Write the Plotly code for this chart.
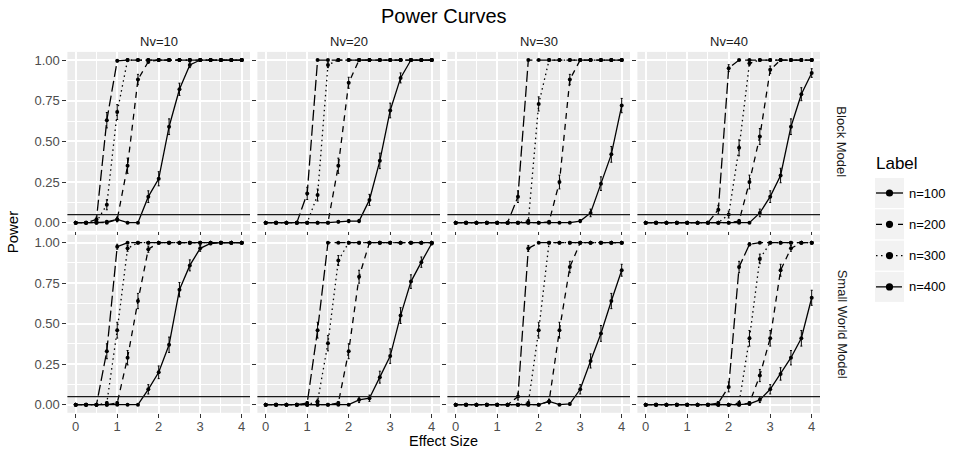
import math
import plotly.graph_objects as go
from plotly.subplots import make_subplots

W, H = 955, 450

# ---------------- data ----------------
effect_size = [0, 0.25, 0.5, 0.75, 1, 1.25, 1.5, 1.75, 2, 2.25, 2.5, 2.75, 3, 3.25, 3.5, 3.75, 4]
nv_labels = ["Nv=10", "Nv=20", "Nv=30", "Nv=40"]
model_labels = ["Block Model", "Small World Model"]
sample_labels = ["n=100", "n=200", "n=300", "n=400"]
x_ticks = [0, 1, 2, 3, 4]
y_ticks = [0, 0.25, 0.5, 0.75, 1]
y_tick_text = ["0.00", "0.25", "0.50", "0.75", "1.00"]
alpha_level = 0.05
n_sim = 400  # simulation replicates behind each power estimate (for the 95% CI bars)

# Block model
block_nv10_n100 = [0, 0, 0, 0.005, 0.02, 0, 0, 0.16, 0.27, 0.59, 0.82, 0.97, 1, 1, 1, 1, 1]
block_nv10_n200 = [0, 0, 0, 0, 0.02, 0.35, 0.88, 0.99, 1, 1, 1, 1, 1, 1, 1, 1, 1]
block_nv10_n300 = [0, 0, 0.005, 0.11, 0.68, 1, 1, 1, 1, 1, 1, 1, 1, 1, 1, 1, 1]
block_nv10_n400 = [0, 0, 0.02, 0.63, 0.995, 1, 1, 1, 1, 1, 1, 1, 1, 1, 1, 1, 1]

block_nv20_n100 = [0, 0, 0, 0, 0, 0, 0, 0.005, 0.01, 0.01, 0.14, 0.38, 0.69, 0.89, 1, 1, 1]
block_nv20_n200 = [0, 0, 0, 0, 0, 0, 0, 0.35, 0.86, 1, 1, 1, 1, 1, 1, 1, 1]
block_nv20_n300 = [0, 0, 0, 0, 0, 0.17, 0.97, 1, 1, 1, 1, 1, 1, 1, 1, 1, 1]
block_nv20_n400 = [0, 0, 0, 0, 0.18, 1, 1, 1, 1, 1, 1, 1, 1, 1, 1, 1, 1]

block_nv30_n100 = [0, 0, 0, 0, 0, 0, 0, 0, 0, 0, 0, 0, 0.01, 0.06, 0.24, 0.42, 0.72]
block_nv30_n200 = [0, 0, 0, 0, 0, 0, 0, 0, 0, 0.005, 0.25, 0.88, 1, 1, 1, 1, 1]
block_nv30_n300 = [0, 0, 0, 0, 0, 0, 0, 0.01, 0.73, 1, 1, 1, 1, 1, 1, 1, 1]
block_nv30_n400 = [0, 0, 0, 0, 0, 0, 0.16, 1, 1, 1, 1, 1, 1, 1, 1, 1, 1]

block_nv40_n100 = [0, 0, 0, 0, 0, 0, 0, 0, 0, 0, 0, 0.06, 0.16, 0.29, 0.59, 0.79, 0.92]
block_nv40_n200 = [0, 0, 0, 0, 0, 0, 0, 0, 0, 0.01, 0.25, 0.53, 0.94, 1, 1, 1, 1]
block_nv40_n300 = [0, 0, 0, 0, 0, 0, 0, 0, 0.05, 0.46, 0.98, 1, 1, 1, 1, 1, 1]
block_nv40_n400 = [0, 0, 0, 0, 0, 0, 0, 0.08, 0.95, 1, 1, 1, 1, 1, 1, 1, 1]

# Small world model
sw_nv10_n100 = [0, 0, 0, 0, 0, 0, 0, 0.095, 0.20, 0.37, 0.71, 0.86, 0.965, 0.995, 1, 1, 1]
sw_nv10_n200 = [0, 0, 0, 0, 0.01, 0.29, 0.64, 0.96, 1, 1, 1, 1, 1, 1, 1, 1, 1]
sw_nv10_n300 = [0, 0, 0, 0.01, 0.46, 0.965, 1, 1, 1, 1, 1, 1, 1, 1, 1, 1, 1]
sw_nv10_n400 = [0, 0, 0, 0.33, 0.975, 1, 1, 1, 1, 1, 1, 1, 1, 1, 1, 1, 1]

sw_nv20_n100 = [0, 0, 0, 0, 0, 0, 0, 0, 0, 0.03, 0.04, 0.17, 0.30, 0.55, 0.76, 0.88, 0.995]
sw_nv20_n200 = [0, 0, 0, 0, 0, 0, 0, 0.01, 0.33, 0.79, 1, 1, 1, 1, 1, 1, 1]
sw_nv20_n300 = [0, 0, 0, 0, 0, 0.02, 0.38, 0.89, 1, 1, 1, 1, 1, 1, 1, 1, 1]
sw_nv20_n400 = [0, 0, 0, 0, 0.01, 0.46, 1, 1, 1, 1, 1, 1, 1, 1, 1, 1, 1]

sw_nv30_n100 = [0, 0, 0, 0, 0, 0, 0, 0, 0, 0.02, 0, 0.005, 0.095, 0.27, 0.44, 0.64, 0.83]
sw_nv30_n200 = [0, 0, 0, 0, 0, 0, 0, 0, 0, 0.02, 0.46, 0.85, 1, 1, 1, 1, 1]
sw_nv30_n300 = [0, 0, 0, 0, 0, 0, 0, 0.01, 0.46, 1, 1, 1, 1, 1, 1, 1, 1]
sw_nv30_n400 = [0, 0, 0, 0, 0, 0, 0.05, 0.965, 1, 1, 1, 1, 1, 1, 1, 1, 1]

sw_nv40_n100 = [0, 0, 0, 0, 0, 0, 0, 0, 0, 0, 0.005, 0.03, 0.095, 0.19, 0.29, 0.41, 0.66]
sw_nv40_n200 = [0, 0, 0, 0, 0, 0, 0, 0, 0, 0, 0.01, 0.18, 0.41, 0.83, 0.965, 1, 1]
sw_nv40_n300 = [0, 0, 0, 0, 0, 0, 0, 0, 0, 0.01, 0.41, 0.90, 1, 1, 1, 1, 1]
sw_nv40_n400 = [0, 0, 0, 0, 0, 0, 0, 0.01, 0.11, 0.85, 0.99, 1, 1, 1, 1, 1, 1]

panels = {
    ("Block Model", "Nv=10"): [block_nv10_n100, block_nv10_n200, block_nv10_n300, block_nv10_n400],
    ("Block Model", "Nv=20"): [block_nv20_n100, block_nv20_n200, block_nv20_n300, block_nv20_n400],
    ("Block Model", "Nv=30"): [block_nv30_n100, block_nv30_n200, block_nv30_n300, block_nv30_n400],
    ("Block Model", "Nv=40"): [block_nv40_n100, block_nv40_n200, block_nv40_n300, block_nv40_n400],
    ("Small World Model", "Nv=10"): [sw_nv10_n100, sw_nv10_n200, sw_nv10_n300, sw_nv10_n400],
    ("Small World Model", "Nv=20"): [sw_nv20_n100, sw_nv20_n200, sw_nv20_n300, sw_nv20_n400],
    ("Small World Model", "Nv=30"): [sw_nv30_n100, sw_nv30_n200, sw_nv30_n300, sw_nv30_n400],
    ("Small World Model", "Nv=40"): [sw_nv40_n100, sw_nv40_n200, sw_nv40_n300, sw_nv40_n400],
}

# ---------------- style ----------------
FONT = "Liberation Sans, Arial, Helvetica, sans-serif"
dashes = ["solid", "6px,5px", "1.5px,3.5px", "11px,4px"]
PANEL_BG = "#EBEBEB"
TICK_COL = "#333333"
TICKLAB_COL = "#4D4D4D"

def fx(px):
    return px / W

def fy(py):
    return 1 - py / H

col_left = [67.4 + 190 * i for i in range(4)]
col_w = 182.6
row_top = [51.9, 234.6]
row_bot = [230.8, 412.8]

fig = make_subplots(rows=2, cols=4)

for r, model in enumerate(model_labels):
    for c, nv in enumerate(nv_labels):
        series = panels[(model, nv)]
        for s, vals in enumerate(series):
            err = [1.96 * math.sqrt(p * (1 - p) / n_sim) for p in vals]
            fig.add_trace(
                go.Scatter(
                    x=effect_size, y=vals, mode="lines+markers",
                    name=sample_labels[s], showlegend=False,
                    line=dict(color="black", width=1.3, dash=dashes[s]),
                    marker=dict(color="black", size=4),
                    error_y=dict(type="data", array=err, visible=True,
                                 color="black", thickness=1, width=1),
                ),
                row=r + 1, col=c + 1,
            )
        fig.add_hline(y=alpha_level, row=r + 1, col=c + 1,
                      line=dict(color="#1a1a1a", width=1.2))

layout_upd = {}
for r in range(2):
    for c in range(4):
        k = r * 4 + c + 1
        xa = "xaxis" if k == 1 else f"xaxis{k}"
        ya = "yaxis" if k == 1 else f"yaxis{k}"
        layout_upd[xa] = dict(
            domain=[fx(col_left[c]), fx(col_left[c] + col_w)],
            range=[-0.2, 4.2], tickvals=x_ticks,
            ticks="outside", ticklen=4, tickwidth=1, tickcolor=TICK_COL,
            showticklabels=(r == 1), ticklabelstandoff=-2,
            tickfont=dict(family=FONT, size=13, color=TICKLAB_COL),
            showgrid=True, gridcolor="white", gridwidth=1.6,
            minor=dict(tickvals=[0.5, 1.5, 2.5, 3.5], showgrid=True,
                       gridcolor="white", gridwidth=0.8, ticks=""),
            zeroline=False, showline=False, fixedrange=True,
        )
        layout_upd[ya] = dict(
            domain=[fy(row_bot[r]), fy(row_top[r])],
            range=[-0.05, 1.05], tickvals=y_ticks, ticktext=y_tick_text,
            ticks="outside", ticklen=4, tickwidth=1, tickcolor=TICK_COL,
            showticklabels=(c == 0),
            tickfont=dict(family=FONT, size=13, color=TICKLAB_COL),
            showgrid=True, gridcolor="white", gridwidth=1.6,
            minor=dict(tickvals=[0.125, 0.375, 0.625, 0.875], showgrid=True,
                       gridcolor="white", gridwidth=0.8, ticks=""),
            zeroline=False, showline=False, fixedrange=True,
        )

annotations = []
panel_cx = (col_left[0] + col_left[3] + col_w) / 2
annotations.append(dict(text="Power Curves", x=fx(panel_cx), y=fy(16), xref="paper", yref="paper",
                        showarrow=False, font=dict(family=FONT, size=20, color="black"),
                        xanchor="center", yanchor="middle"))
for c, nv in enumerate(nv_labels):
    annotations.append(dict(text=nv, x=fx(col_left[c] + col_w / 2), y=fy(41), xref="paper", yref="paper",
                            showarrow=False, font=dict(family=FONT, size=13, color="#1A1A1A"),
                            xanchor="center", yanchor="middle"))
for r, m in enumerate(model_labels):
    annotations.append(dict(text=m, x=fx(842), y=fy((row_top[r] + row_bot[r]) / 2), xref="paper", yref="paper",
                            showarrow=False, textangle=90, font=dict(family=FONT, size=13, color="#1A1A1A"),
                            xanchor="center", yanchor="middle"))
annotations.append(dict(text="Effect Size", x=fx(panel_cx), y=fy(441), xref="paper", yref="paper",
                        showarrow=False, font=dict(family=FONT, size=14.5, color="black"),
                        xanchor="center", yanchor="middle"))
annotations.append(dict(text="Power", x=fx(12), y=fy((row_top[0] + row_bot[1]) / 2), xref="paper", yref="paper",
                        showarrow=False, textangle=-90, font=dict(family=FONT, size=15, color="black"),
                        xanchor="center", yanchor="middle"))

# legend (drawn manually to mimic ggplot keys)
shapes = []
annotations.append(dict(text="Label", x=fx(874), y=fy(163), xref="paper", yref="paper",
                        showarrow=False, font=dict(family=FONT, size=17, color="black"),
                        xanchor="left", yanchor="middle"))
key_x0, key_x1 = 875, 904
for s, lab in enumerate(sample_labels):
    cy = 193 + 31.3 * s
    shapes.append(dict(type="rect", xref="paper", yref="paper",
                       x0=fx(key_x0), x1=fx(key_x1), y0=fy(cy + 15), y1=fy(cy - 15),
                       fillcolor="#F2F2F2", line=dict(width=0), layer="below"))
    shapes.append(dict(type="line", xref="paper", yref="paper",
                       x0=fx(key_x0 + 1), x1=fx(key_x1 - 1), y0=fy(cy), y1=fy(cy),
                       line=dict(color="black", width=1.3, dash=dashes[s])))
    shapes.append(dict(type="circle", xref="paper", yref="paper",
                       x0=fx((key_x0 + key_x1) / 2 - 3.6), x1=fx((key_x0 + key_x1) / 2 + 3.6),
                       y0=fy(cy + 3.6), y1=fy(cy - 3.6),
                       fillcolor="black", line=dict(width=0)))
    annotations.append(dict(text=lab, x=fx(907), y=fy(cy), xref="paper", yref="paper",
                            showarrow=False, font=dict(family=FONT, size=13, color="black"),
                            xanchor="left", yanchor="middle"))

fig.update_layout(**layout_upd)
fig.update_layout(
    width=W, height=H, autosize=False,
    margin=dict(l=0, r=0, t=0, b=0),
    paper_bgcolor="white", plot_bgcolor=PANEL_BG,
    showlegend=False,
    annotations=annotations,
)
for sh in shapes:
    fig.add_shape(**sh)

# remove the browser's default 8px body margin so the figure sits at the window origin
fig.write_html("out.html", config={"displayModeBar": False},
               post_script="document.body.style.margin='0';document.body.style.overflow='hidden';")
